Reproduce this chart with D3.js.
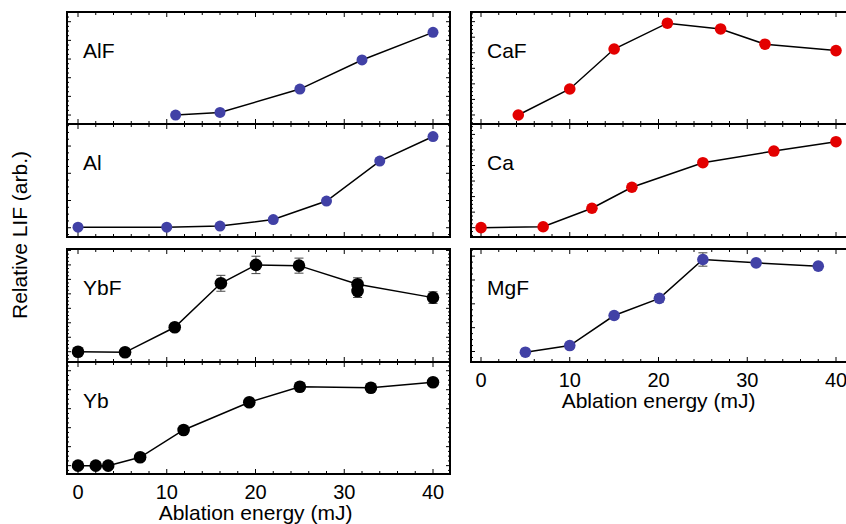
<!DOCTYPE html>
<html>
<head>
<meta charset="utf-8">
<script src="https://cdn.jsdelivr.net/npm/d3@7"></script>
<style>
  html, body { margin: 0; padding: 0; background: #fff; }
  svg { display: block; font-family: "Liberation Sans", Arial, Helvetica, sans-serif; }
</style>
</head>
<body>
<svg id="chart" width="846" height="524"></svg>
<script>
// Ablation energy (mJ) tick labels
const energyTicks = [0, 10, 20, 30, 40];

// Relative LIF signal vs ablation energy, one pair of arrays per species
const alfEnergy = [11, 16, 25, 32, 40];
const alfLIF    = [0.0, 0.14, 1.39, 2.95, 4.43];

const alEnergy  = [0, 10, 16, 22, 28, 34, 40];
const alLIF     = [0.02, 0.02, 0.06, 0.3, 0.98, 2.45, 3.35];

const ybfEnergy = [0, 5.3, 10.9, 16.1, 20.05, 24.9, 31.5, 40];
const ybfLIF    = [0.0, -0.04, 1.69, 4.73, 6.0, 5.95, 4.66, 3.74];
const ybfErr    = [0, 0, 0, 0.55, 0.6, 0.52, 0.45, 0.4];
// second YbF measurement taken at the same energy
const ybfExtraEnergy = [31.5];
const ybfExtraLIF    = [4.2];
const ybfExtraErr    = [0.45];

const ybEnergy  = [0, 2, 3.4, 7, 11.9, 19.3, 25, 33, 40];
const ybLIF     = [0, 0, 0, 0.44, 1.88, 3.34, 4.16, 4.1, 4.39];

const cafEnergy = [4.2, 10, 15, 21, 27, 32, 40];
const cafLIF    = [0.0, 1.67, 4.24, 5.9, 5.53, 4.55, 4.14];

const caEnergy  = [0, 7, 12.5, 17, 25, 33, 40];
const caLIF     = [0.0, 0.06, 1.25, 2.6, 4.18, 4.93, 5.53];

const mgfEnergy = [5, 10, 15, 20.1, 25, 31, 38];
const mgfLIF    = [-0.03, 0.25, 1.51, 2.23, 3.86, 3.72, 3.58];
const mgfErr    = [0, 0, 0, 0.15, 0.28, 0, 0];

const BLUE = "#4141a6", RED = "#e30000", BLACK = "#000";

const svg = d3.select("#chart");

// Horizontal scales for the two columns
const xLeft  = d3.scaleLinear().domain([0, 40]).range([78, 433]);
const xRight = d3.scaleLinear().domain([0, 40]).range([481, 836]);

// Panel layout: frame edges and vertical domain of each panel
const panels = [
  { name: "AlF", x: xLeft,  top: 12,  bottom: 124, ydom: [-0.48, 5.52], e: alfEnergy, v: alfLIF, color: BLUE, r: 5.5 },
  { name: "Al",  x: xLeft,  top: 124, bottom: 237, ydom: [-0.34, 3.81], e: alEnergy,  v: alLIF,  color: BLUE, r: 5.5 },
  { name: "YbF", x: xLeft,  top: 249, bottom: 362, ydom: [-0.71, 7.1],  e: ybfEnergy, v: ybfLIF, err: ybfErr, color: BLACK, r: 6.3,
    extra: { e: ybfExtraEnergy, v: ybfExtraLIF, err: ybfExtraErr } },
  { name: "Yb",  x: xLeft,  top: 362, bottom: 474, ydom: [-0.44, 5.46], e: ybEnergy,  v: ybLIF,  color: BLACK, r: 6.3, axis: true },
  { name: "CaF", x: xRight, top: 12,  bottom: 124, ydom: [-0.58, 6.62], e: cafEnergy, v: cafLIF, color: RED, r: 5.8 },
  { name: "Ca",  x: xRight, top: 124, bottom: 237, ydom: [-0.6, 6.67],  e: caEnergy,  v: caLIF,  color: RED, r: 5.8 },
  { name: "MgF", x: xRight, top: 249, bottom: 362, ydom: [-0.44, 4.3],  e: mgfEnergy, v: mgfLIF, err: mgfErr, color: BLUE, r: 5.8, axis: true }
];

panels.forEach(p => {
  const x = p.x;
  const xl = x === xLeft ? 67 : 471;
  const xr = x === xLeft ? 450 : 853;
  const y = d3.scaleLinear().domain(p.ydom).range([p.bottom, p.top]);
  const g = svg.append("g");

  // tick marks, pointing inward on all four sides
  const ticks = g.append("g").attr("stroke", "#000").attr("stroke-width", 1);
  d3.range(0, 41, 2).forEach(t => {
    const len = t % 10 === 0 ? 5 : 3;
    const px = x(t);
    ticks.append("line").attr("x1", px).attr("x2", px).attr("y1", p.bottom).attr("y2", p.bottom - len);
    ticks.append("line").attr("x1", px).attr("x2", px).attr("y1", p.top).attr("y2", p.top + len);
  });
  const yMin = Math.ceil(p.ydom[0] * 4) / 4;
  for (let t = yMin; t <= p.ydom[1]; t += 0.25) {
    const major = Math.abs(t - Math.round(t)) < 1e-6;
    const len = major ? 4 : 2;
    const py = y(t);
    ticks.append("line").attr("x1", xl).attr("x2", xl + len).attr("y1", py).attr("y2", py);
    ticks.append("line").attr("x1", xr).attr("x2", xr - len).attr("y1", py).attr("y2", py);
  }

  // frame
  g.append("rect")
    .attr("x", xl).attr("y", p.top)
    .attr("width", xr - xl).attr("height", p.bottom - p.top)
    .attr("fill", "none").attr("stroke", "#000").attr("stroke-width", 2);

  // connecting line
  const line = d3.line().x(d => x(d[0])).y(d => y(d[1]));
  const pts = p.e.map((e, i) => [e, p.v[i]]);
  g.append("path").attr("d", line(pts))
    .attr("fill", "none").attr("stroke", "#000").attr("stroke-width", 1.5);

  // error bars
  const drawErr = (es, vs, errs) => {
    es.forEach((e, i) => {
      const d = errs[i];
      if (!d) return;
      const px = x(e), y1 = y(vs[i] - d), y2 = y(vs[i] + d);
      const eg = g.append("g").attr("stroke", "#444").attr("stroke-width", 1);
      eg.append("line").attr("x1", px).attr("x2", px).attr("y1", y1).attr("y2", y2);
      eg.append("line").attr("x1", px - 4.5).attr("x2", px + 4.5).attr("y1", y1).attr("y2", y1);
      eg.append("line").attr("x1", px - 4.5).attr("x2", px + 4.5).attr("y1", y2).attr("y2", y2);
    });
  };
  if (p.err) drawErr(p.e, p.v, p.err);
  if (p.extra) drawErr(p.extra.e, p.extra.v, p.extra.err);

  // markers
  const drawDots = (es, vs) => {
    g.append("g").selectAll("circle").data(es.map((e, i) => [e, vs[i]])).join("circle")
      .attr("cx", d => x(d[0])).attr("cy", d => y(d[1])).attr("r", p.r)
      .attr("fill", p.color);
  };
  drawDots(p.e, p.v);
  if (p.extra) drawDots(p.extra.e, p.extra.v);

  // species label
  g.append("text")
    .attr("x", xl + 16).attr("y", p.top + 46)
    .attr("font-size", 21).attr("fill", "#000")
    .text(p.name);

  // energy axis labels under the bottom panel of each column
  if (p.axis) {
    g.append("g").selectAll("text").data(energyTicks).join("text")
      .attr("x", d => x(d)).attr("y", p.bottom + 25)
      .attr("text-anchor", "middle").attr("font-size", 20)
      .text(d => d);
    g.append("text")
      .attr("x", (x(0) + x(40)) / 2).attr("y", p.bottom + 46)
      .attr("text-anchor", "middle").attr("font-size", 21)
      .text("Ablation energy (mJ)");
  }
});

// shared vertical axis title
svg.append("text")
  .attr("transform", "translate(27,235) rotate(-90)")
  .attr("text-anchor", "middle").attr("font-size", 21)
  .text("Relative LIF (arb.)");
</script>
</body>
</html>
